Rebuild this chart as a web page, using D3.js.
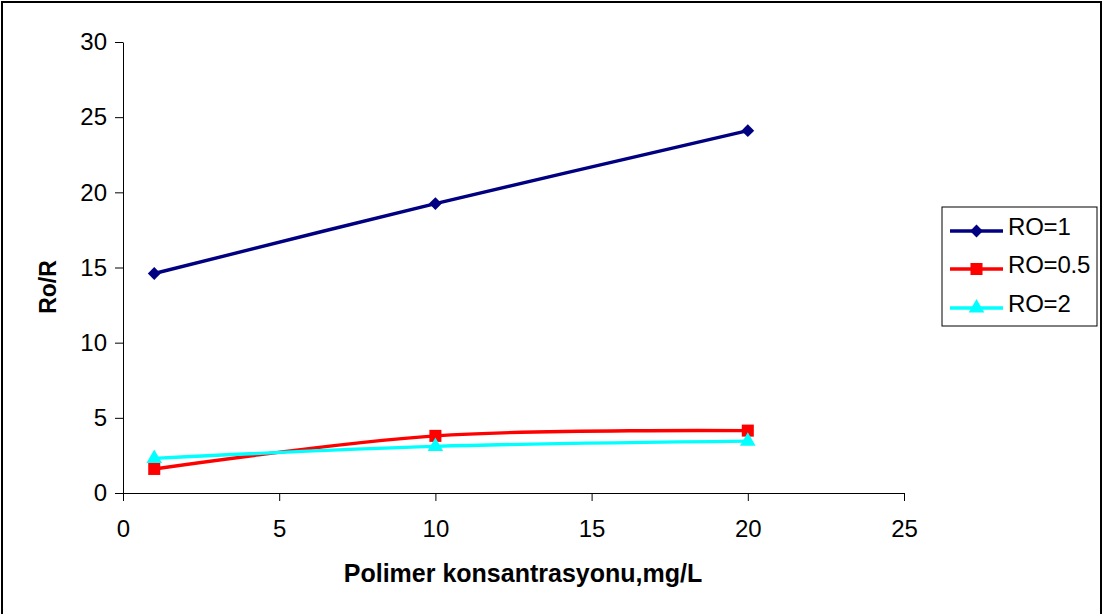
<!DOCTYPE html>
<html>
<head>
<meta charset="utf-8">
<script src="https://cdn.jsdelivr.net/npm/d3@7"></script>
<style>
  html, body { margin: 0; padding: 0; background: #fff; }
  svg { display: block; font-family: "Liberation Sans", Arial, sans-serif; }
</style>
</head>
<body>
<svg id="chart" width="1104" height="614"></svg>
<script>
// Polymer concentration (mg/L) and Ro/R for each RO ratio
const concentrations = [1, 10, 20];
const ro1 = [14.6, 19.25, 24.1];
const ro05 = [1.6, 3.8, 4.15];
const ro2 = [2.3, 3.1, 3.45];
const xTicks = [0, 5, 10, 15, 20, 25];
const yTicks = [0, 5, 10, 15, 20, 25, 30];

const seriesList = [
  { name: "RO=1", values: ro1, color: "#000080", marker: "diamond" },
  { name: "RO=0.5", values: ro05, color: "#FF0000", marker: "square" },
  { name: "RO=2", values: ro2, color: "#00FFFF", marker: "triangle" }
];

const svg = d3.select("#chart");

// outer frame
svg.append("rect")
  .attr("x", 2).attr("y", 2).attr("width", 1099).attr("height", 640)
  .attr("fill", "none").attr("stroke", "#000").attr("stroke-width", 2);

const x = d3.scaleLinear().domain([0, 25]).range([123, 904]);
const y = d3.scaleLinear().domain([0, 30]).range([493, 42]);

// axes
const xAxis = d3.axisBottom(x).tickValues(xTicks).tickSize(8).tickSizeOuter(0).tickPadding(19);
const yAxis = d3.axisLeft(y).tickValues(yTicks).tickSize(8).tickSizeOuter(0).tickPadding(8);

const gx = svg.append("g").attr("transform", `translate(0,${y(0)})`).call(xAxis);
const gy = svg.append("g").attr("transform", `translate(${x(0)},0)`).call(yAxis);

[gx, gy].forEach(g => {
  g.selectAll("path.domain").attr("stroke", "#000").attr("stroke-width", 1);
  g.selectAll(".tick line").attr("stroke", "#000").attr("stroke-width", 1);
  g.selectAll(".tick text")
    .attr("fill", "#000")
    .style("font-size", "24px")
    .style("font-family", "'Liberation Sans', Arial, sans-serif");
});

// axis titles
svg.append("text")
  .attr("x", 523).attr("y", 582)
  .attr("text-anchor", "middle")
  .style("font-size", "25px").style("font-weight", "bold")
  .text("Polimer konsantrasyonu,mg/L");

svg.append("text")
  .attr("transform", "translate(56,287) rotate(-90)")
  .attr("text-anchor", "middle")
  .style("font-size", "23px").style("font-weight", "bold")
  .text("Ro/R");

// smoothed series lines
const line = d3.line()
  .x(d => x(d[0]))
  .y(d => y(d[1]))
  .curve(d3.curveCatmullRom.alpha(0.5));

const markerPath = {
  diamond: d3.symbol().type(d3.symbolDiamond2).size(105),
  square: d3.symbol().type(d3.symbolSquare).size(145),
  triangle: d3.symbol().type(d3.symbolTriangle).size(105)
};

seriesList.forEach(s => {
  const pts = concentrations.map((c, i) => [c, s.values[i]]);
  svg.append("path")
    .datum(pts)
    .attr("d", line)
    .attr("fill", "none")
    .attr("stroke", s.color)
    .attr("stroke-width", 3.4);
  svg.append("g").selectAll("path")
    .data(pts)
    .join("path")
    .attr("transform", d => `translate(${x(d[0])},${y(d[1])})`)
    .attr("d", markerPath[s.marker]())
    .attr("fill", s.color);
});

// legend
const legend = svg.append("g");
legend.append("rect")
  .attr("x", 942).attr("y", 207).attr("width", 155).attr("height", 119)
  .attr("fill", "#fff").attr("stroke", "#000").attr("stroke-width", 1);

const legendRows = [231, 269, 308];
seriesList.forEach((s, i) => {
  const yy = legendRows[i];
  legend.append("line")
    .attr("x1", 950).attr("x2", 1003).attr("y1", yy).attr("y2", yy)
    .attr("stroke", s.color).attr("stroke-width", 3.4);
  legend.append("path")
    .attr("transform", `translate(976.5,${yy})`)
    .attr("d", markerPath[s.marker]())
    .attr("fill", s.color);
  legend.append("text")
    .attr("x", 1008).attr("y", yy + 4)
    .style("font-size", "24px")
    .style("letter-spacing", "-0.2px")
    .text(s.name);
});
</script>
</body>
</html>
